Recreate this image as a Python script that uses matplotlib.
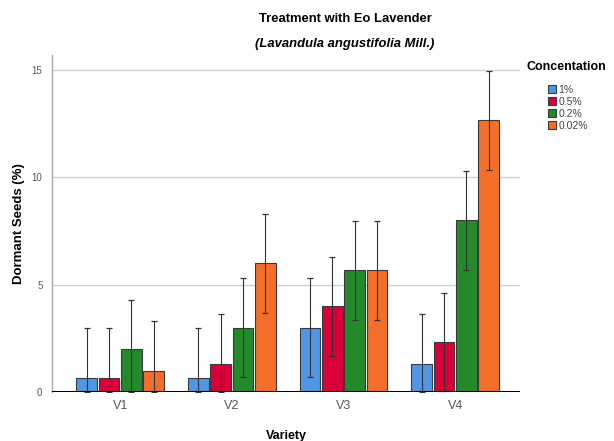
import numpy as np
import matplotlib.pyplot as plt

plt.rcParams['font.family'] = ['Liberation Sans', 'DejaVu Sans']

varieties = ['V1', 'V2', 'V3', 'V4']
concentrations = ['1%', '0.5%', '0.2%', '0.02%']
colors = ['#5096E6', '#D9003A', '#23892B', '#F46E2B']

means = {
    '1%':    [0.67, 0.67, 3.0, 1.33],
    '0.5%':  [0.67, 1.33, 4.0, 2.33],
    '0.2%':  [2.0, 3.0, 5.67, 8.0],
    '0.02%': [1.0, 6.0, 5.67, 12.67],
}
errors = {
    '1%':    [2.3, 2.3, 2.3, 2.3],
    '0.5%':  [2.3, 2.3, 2.3, 2.3],
    '0.2%':  [2.3, 2.3, 2.3, 2.3],
    '0.02%': [2.3, 2.3, 2.3, 2.3],
}

fig = plt.figure(figsize=(6.14, 4.41), dpi=100)
ax = fig.add_axes([0.085, 0.111, 0.762, 0.764])

x = np.arange(len(varieties))
w = 0.185
step = 0.2
for i, c in enumerate(concentrations):
    pos = x + (i - 1.5) * step
    m = np.array(means[c])
    e = np.array(errors[c])
    lower = np.minimum(e, m)  # clip at baseline
    ax.bar(pos, m, width=w, color=colors[i], edgecolor='#3a3a3a', linewidth=0.8,
           label=c, zorder=3)
    ax.errorbar(pos, m, yerr=[lower, e], fmt='none', ecolor='#333333',
                elinewidth=0.8, capsize=2.5, capthick=0.9, zorder=4)

ax.set_xlim(-0.61, 3.58)
ax.set_ylim(0, 15.7)
ax.set_yticks([0, 5, 10, 15])
ax.set_xticks(x)
ax.set_xticklabels(varieties, fontsize=9, color='#555555')
ax.tick_params(axis='y', labelsize=7, colors='#555555', length=0, pad=7)
ax.tick_params(axis='x', length=0, pad=6)
ax.grid(axis='y', color='#d0d0d0', linewidth=1.0, zorder=0)
ax.axhline(0, color='black', linewidth=2.2, zorder=5)

for s in ['top', 'right', 'bottom']:
    ax.spines[s].set_visible(False)
ax.spines['left'].set_color('#aaaaaa')
ax.spines['left'].set_linewidth(1.0)

ax.set_ylabel('Dormant Seeds (%)', fontsize=9.5, fontweight='bold', labelpad=5)
ax.set_xlabel('Variety', fontsize=9, fontweight='bold', labelpad=13)

fig.text(0.562, 0.958, 'Treatment with Eo Lavender', ha='center', va='center',
         fontsize=9.4, fontweight='bold')
fig.text(0.562, 0.900, '(Lavandula angustifolia Mill.)', ha='center', va='center',
         fontsize=9.4, fontweight='bold', style='italic')

fig.text(0.858, 0.848, 'Concentation', ha='left', va='center',
         fontsize=9, fontweight='bold')
leg = ax.legend(loc='upper left', bbox_to_anchor=(0.892, 0.808),
                bbox_transform=fig.transFigure,
                frameon=False, fontsize=7.5, handlelength=0.8, handleheight=0.8,
                handletextpad=0.25, labelspacing=0.2, borderaxespad=0,
                borderpad=0)
for t in leg.get_texts():
    t.set_color('#444444')

fig.savefig('out.png', dpi=100)
